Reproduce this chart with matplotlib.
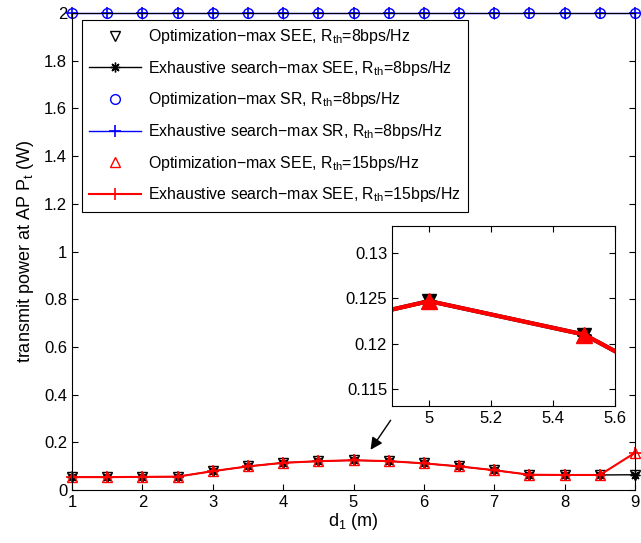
import matplotlib
matplotlib.use('Agg')
import matplotlib.pyplot as plt
from matplotlib.ticker import FuncFormatter
import numpy as np

plt.rcParams['font.family'] = ['Liberation Sans', 'DejaVu Sans']
plt.rcParams['mathtext.fontset'] = 'custom'
plt.rcParams['mathtext.rm'] = 'Liberation Sans'
plt.rcParams['mathtext.it'] = 'Liberation Sans'

d1 = np.arange(1, 9.01, 0.5)
see_8 = [0.054, 0.054, 0.055, 0.056, 0.079, 0.099, 0.114, 0.1208, 0.1247,
         0.1210, 0.1118, 0.099, 0.083, 0.064, 0.063, 0.063, 0.064]
sr_8 = [2.0] * 17
see_15 = [0.054, 0.054, 0.055, 0.056, 0.079, 0.099, 0.114, 0.1208, 0.1247,
          0.1210, 0.1118, 0.099, 0.083, 0.064, 0.063, 0.063, 0.156]

labels = [
    'Optimization\u2212max SEE, $\\mathregular{R_{th}}$=8bps/Hz',
    'Exhaustive search\u2212max SEE, $\\mathregular{R_{th}}$=8bps/Hz',
    'Optimization\u2212max SR, $\\mathregular{R_{th}}$=8bps/Hz',
    'Exhaustive search\u2212max SR, $\\mathregular{R_{th}}$=8bps/Hz',
    'Optimization\u2212max SEE, $\\mathregular{R_{th}}$=15bps/Hz',
    'Exhaustive search\u2212max SEE, $\\mathregular{R_{th}}$=15bps/Hz',
]

fmt = FuncFormatter(lambda v, p: '%g' % v)
star = (8, 2, 0)

fig = plt.figure(figsize=(6.41, 5.43), dpi=100)
ax = fig.add_axes([72 / 641, 1 - 490 / 543, 563 / 641, 477 / 543])

ms = 7
ax.plot(d1, see_8, 'v', color='k', mfc='none', ms=ms, label=labels[0], clip_on=False)
ax.plot(d1, see_8, '-', marker=star, color='k', ms=ms, lw=1, label=labels[1], clip_on=False)
ax.plot(d1, sr_8, 'o', color='b', mfc='none', ms=ms, label=labels[2], clip_on=False)
ax.plot(d1, sr_8, '-+', color='b', ms=ms + 2, mew=1.2, lw=1, label=labels[3], clip_on=False)
ax.plot(d1, see_15, '^', color='r', mfc='none', ms=ms, label=labels[4], clip_on=False)
ax.plot(d1, see_15, '-+', color='r', ms=ms + 2, mew=1.2, lw=1.5, label=labels[5], clip_on=False)

ax.set_xlim(1, 9)
ax.set_ylim(0, 2)
ax.set_xticks(range(1, 10))
ax.set_yticks(np.arange(0, 2.01, 0.2))
ax.xaxis.set_major_formatter(fmt)
ax.yaxis.set_major_formatter(fmt)
ax.tick_params(direction='in', top=True, right=True, labelsize=12, length=4)
ax.set_xlabel('$\\mathregular{d_1}$ (m)', fontsize=13, labelpad=1)
ax.set_ylabel('transmit power at AP $\\mathregular{P_t}$ (W)', fontsize=13, labelpad=6)
for s in ax.spines.values():
    s.set_linewidth(0.8)

leg = ax.legend(loc='upper left', bbox_to_anchor=(82 / 641, 1 - 20 / 543),
                bbox_transform=fig.transFigure, borderaxespad=0, fontsize=11.4,
                fancybox=False, edgecolor='k', framealpha=1, handlelength=3.3,
                handletextpad=0.45, labelspacing=0.8, borderpad=0.45)
leg.get_frame().set_linewidth(0.8)
leg.set_zorder(5)

ax.annotate('', xy=(5.22, 0.159), xytext=(5.55, 0.302),
            arrowprops=dict(arrowstyle='-|>', color='k', lw=1, mutation_scale=18))

# zoomed inset
ins = fig.add_axes([392 / 641, 1 - 406 / 543, 223 / 641, 180 / 543])
ins.plot(d1, see_8, 'v', color='k', ms=10)
ins.plot(d1, see_8, '-', marker=star, color='k', ms=10, mew=1.5, lw=3)
ins.plot(d1, see_15, '^', color='r', ms=11)
ins.plot(d1, see_15, '-', color='r', lw=3)
ins.set_xlim(4.88, 5.6)
ins.set_ylim(0.1131, 0.1330)
ins.set_xticks([5, 5.2, 5.4, 5.6])
ins.set_yticks([0.115, 0.12, 0.125, 0.13])
ins.xaxis.set_major_formatter(fmt)
ins.yaxis.set_major_formatter(fmt)
ins.tick_params(direction='in', top=True, right=True, labelsize=12, length=4)
for s in ins.spines.values():
    s.set_linewidth(0.8)

fig.savefig('out.png', dpi=100)
